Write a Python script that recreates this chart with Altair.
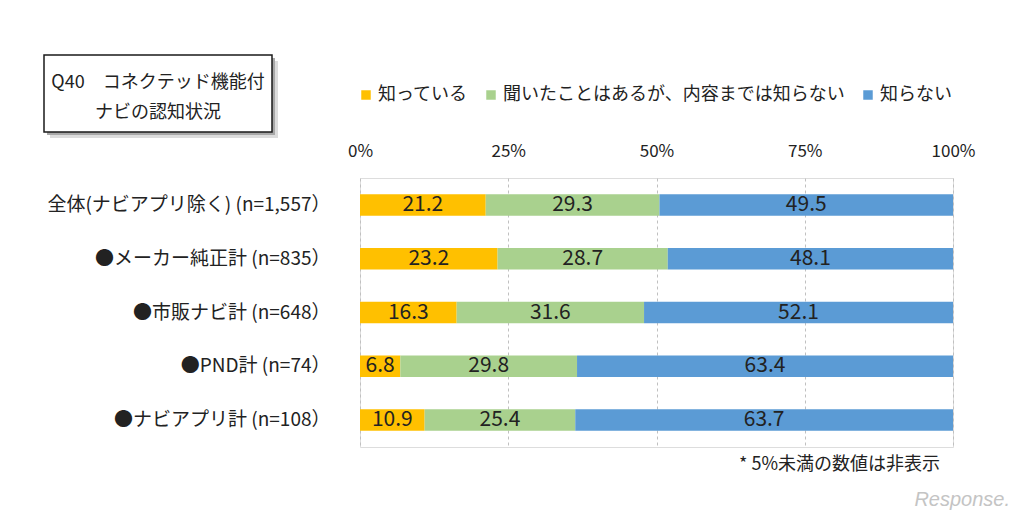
import altair as alt
import pandas as pd

categories = [
    "全体(ナビアプリ除く) (n=1,557）",
    "●メーカー純正計 (n=835）",
    "●市販ナビ計 (n=648）",
    "●PND計 (n=74）",
    "●ナビアプリ計 (n=108）",
]
series = ["知っている", "聞いたことはあるが、内容までは知らない", "知らない"]
colors = ["#FFC000", "#A9D18E", "#5B9BD5"]
known = [21.2, 23.2, 16.3, 6.8, 10.9]
heard = [29.3, 28.7, 31.6, 29.8, 25.4]
unknown = [49.5, 48.1, 52.1, 63.4, 63.7]
tick_values = [0, 25, 50, 75, 100]
title_line1 = "Q40　コネクテッド機能付"
title_line2 = "ナビの認知状況"
note_text = "*  5%未満の数値は非表示"
watermark = "Response."

FONT = "Noto Sans CJK JP"
TXT = "#222222"

rows = []
for i, c in enumerate(categories):
    for j, (s, vals) in enumerate(zip(series, [known, heard, unknown])):
        rows.append({"cat": c, "series": s, "value": vals[i], "order": j})
df = pd.DataFrame(rows)

base = alt.Chart(df)

y_enc = alt.Y(
    "cat:N",
    sort=categories,
    scale=alt.Scale(paddingInner=0.6, paddingOuter=0.3),
    axis=alt.Axis(
        title=None, domain=False, ticks=False, labelFontSize=19, labelPadding=30,
        labelLimit=500, labelColor=TXT, labelFont=FONT,
    ),
)

bars = base.mark_bar().encode(
    y=y_enc,
    x=alt.X(
        "value:Q",
        stack="zero",
        scale=alt.Scale(domain=[0, 100], nice=False),
        axis=alt.Axis(
            orient="top", title=None, values=tick_values, labelExpr="datum.value + '%'",
            domain=False, ticks=False, grid=True, gridDash=[3, 3], gridColor="#c0c0c0",
            gridWidth=1, labelFontSize=17, labelPadding=18, labelColor=TXT, labelFont=FONT,
            labelFlush=False, labelOverlap=False,
        ),
    ),
    color=alt.Color(
        "series:N",
        scale=alt.Scale(domain=series, range=colors),
        sort=series,
        legend=alt.Legend(
            orient="none", legendX=-3, legendY=-92, direction="horizontal", title=None,
            symbolType="square", symbolSize=90, symbolStrokeWidth=0, labelFontSize=18,
            labelOffset=3, columnPadding=14, labelLimit=500, labelColor=TXT,
            labelFont=FONT, padding=0,
        ),
    ),
    order=alt.Order("order:Q"),
)

labels = (
    base.transform_stack(
        stack="value", as_=["v0", "v1"], groupby=["cat"],
        sort=[alt.SortField("order", order="ascending")],
    )
    .transform_calculate(mid="(datum.v0 + datum.v1) / 2")
    .transform_filter("datum.value >= 5")
    .mark_text(fontSize=21, color=TXT, font=FONT, baseline="middle", align="center")
    .encode(
        y=alt.Y("cat:N", sort=categories),
        x=alt.X("mid:Q"),
        text=alt.Text("value:Q", format=".1f"),
    )
)

one = pd.DataFrame({"k": [0]})
shadow2 = alt.Chart(one).mark_rect(fill="#dcdcdc").encode(
    x=alt.value(-310), x2=alt.value(-82), y=alt.value(-117), y2=alt.value(-40)
)
shadow = alt.Chart(one).mark_rect(fill="#a8a8a8").encode(
    x=alt.value(-313), x2=alt.value(-85), y=alt.value(-120), y2=alt.value(-43)
)
box = alt.Chart(one).mark_rect(fill="white", stroke="#1a1a1a", strokeWidth=1.5).encode(
    x=alt.value(-316), x2=alt.value(-88), y=alt.value(-123), y2=alt.value(-46)
)
title_a = alt.Chart(one).mark_text(
    fontSize=18, font=FONT, color=TXT, align="center", baseline="middle"
).encode(x=alt.value(-202), y=alt.value(-95), text=alt.value(title_line1))
title_b = alt.Chart(one).mark_text(
    fontSize=18, font=FONT, color=TXT, align="center", baseline="middle"
).encode(x=alt.value(-202), y=alt.value(-65), text=alt.value(title_line2))

note = alt.Chart(one).mark_text(
    fontSize=18, font=FONT, color=TXT, align="right", baseline="middle"
).encode(x=alt.value(580), y=alt.value(287), text=alt.value(note_text))

wm = alt.Chart(one).mark_text(
    fontSize=20, font="Liberation Sans", color="#c4c4c4", align="right", baseline="middle",
    fontStyle="italic",
).encode(x=alt.value(650), y=alt.value(322), text=alt.value(watermark))

chart = (
    alt.layer(shadow2, shadow, box, title_a, title_b, bars, labels, note, wm)
    .properties(
        width=593,
        height=269,
        autosize=alt.AutoSizeParams(type="none"),
        padding={"left": 352, "top": 170, "right": 60, "bottom": 66},
    )
    .configure_view(stroke="#7f7f7f", strokeWidth=2)
    .configure(font=FONT)
)

chart.save("out.html", embed_options={"renderer": "svg", "actions": False})
